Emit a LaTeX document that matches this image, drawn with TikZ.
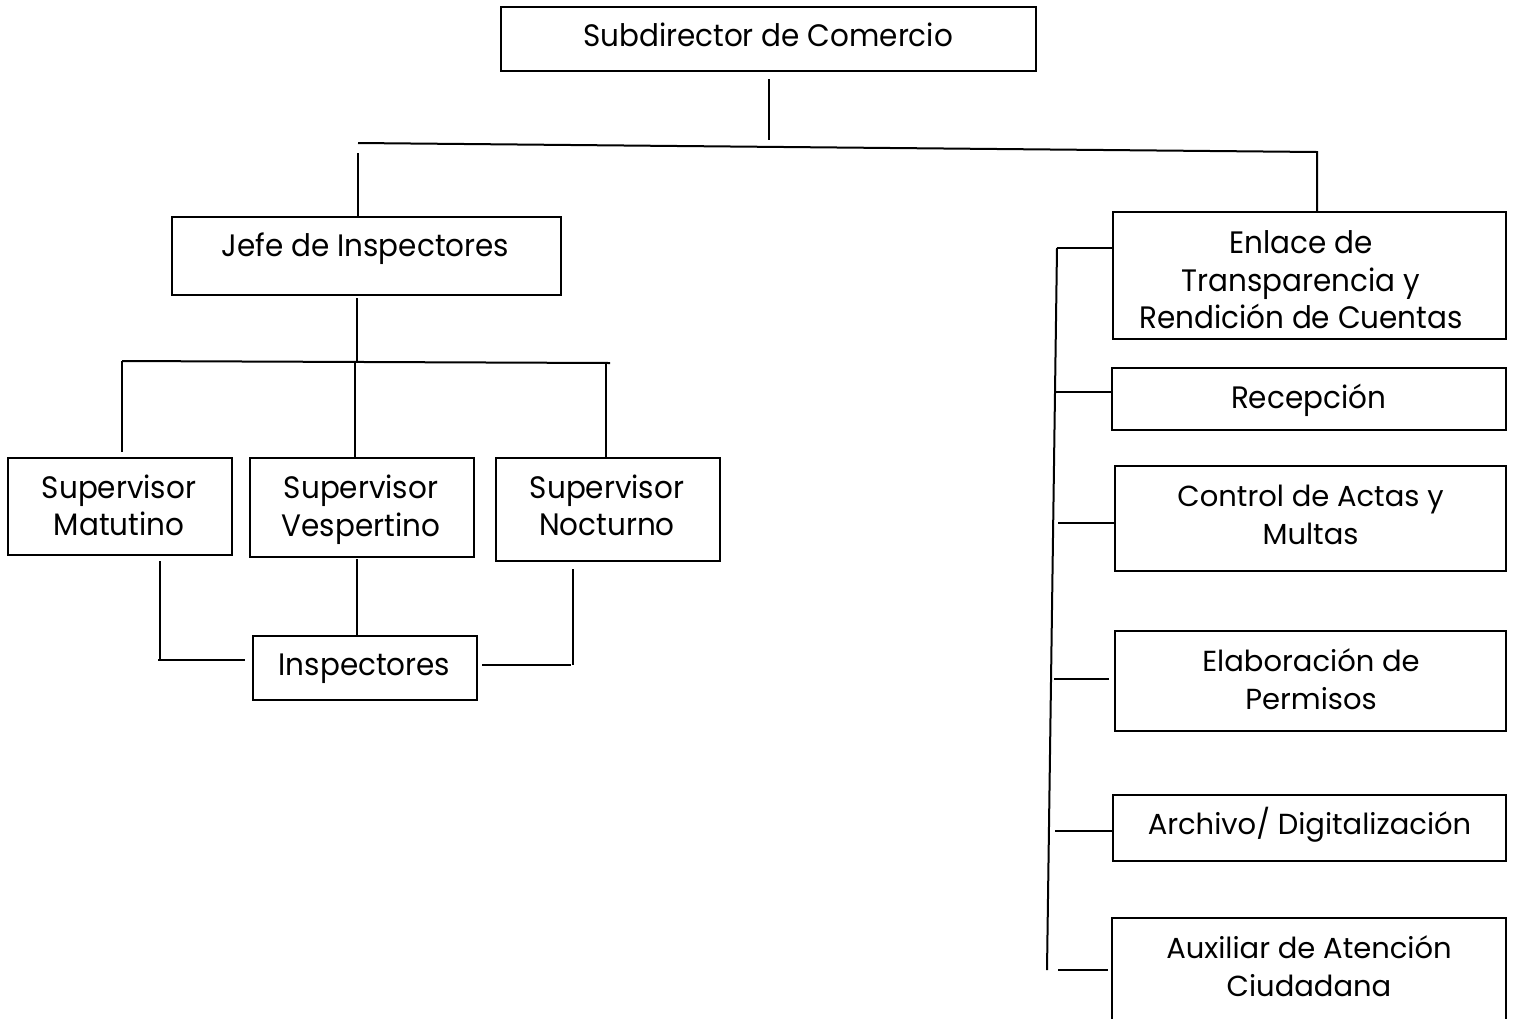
\documentclass[tikz,border=0pt]{standalone}
\usepackage{fontspec}
\setmainfont{Poppins}
\newfontfamily\condfont[FakeStretch=0.95]{Poppins}
\begin{document}
\begin{tikzpicture}[x=1pt,y=-1pt,
  box/.style={draw=black,line width=2pt,rectangle,inner sep=0pt},
  txt/.style={inner sep=0pt,align=center,font=\fontsize{29}{38}\selectfont},
  ctxt/.style={txt,font=\condfont\fontsize{31}{37.5}\selectfont},
  conn/.style={line width=2pt,draw=black}]
\useasboundingbox (0,0) rectangle (1514,1018);
\clip (0,0) rectangle (1514,1018);
% boxes
\node[box,minimum width=535pt,minimum height=64pt] (sub) at (768.5,39) {};
\node[box,minimum width=389pt,minimum height=78pt] (jefe) at (366.5,256) {};
\node[box,minimum width=224pt,minimum height=97pt] (mat) at (120,506.5) {};
\node[box,minimum width=224pt,minimum height=99pt] (ves) at (362,507.5) {};
\node[box,minimum width=224pt,minimum height=103pt] (noc) at (608,509.5) {};
\node[box,minimum width=224pt,minimum height=64pt] (insp) at (365,668) {};
\node[box,minimum width=393pt,minimum height=127pt] (enl) at (1309.5,275.5) {};
\node[box,minimum width=394pt,minimum height=62pt] (rec) at (1309,399) {};
\node[box,minimum width=391pt,minimum height=105pt] (ctl) at (1310.5,518.5) {};
\node[box,minimum width=391pt,minimum height=100pt] (ela) at (1310.5,681) {};
\node[box,minimum width=393pt,minimum height=66pt] (arc) at (1309.5,828) {};
\node[box,minimum width=394pt,minimum height=104pt] (aux) at (1309,970) {};
% texts
\node[ctxt] (sub-t) at (768,35) {Subdirector de Comercio};
\node[ctxt] (jefe-t) at (365.5,249) {Jefe de Inspectores};
\node[ctxt] (mat-t) at (119,505.5) {Supervisor\\Matutino};
\node[ctxt] (ves-t) at (361,509.5) {Supervisor\\Vespertino};
\node[ctxt] (noc-t) at (607,505.5) {Supervisor\\Nocturno};
\node[ctxt] (insp-t) at (364.5,669) {Inspectores};
\node[ctxt] (enl-t) at (1301,280) {Enlace de\\Transparencia y\\Rendición de Cuentas};
\node[ctxt] (rec-t) at (1308.5,400) {Recepción};
\node[txt] (ctl-t) at (1310.5,515) {Control de Actas y\\Multas};
\node[txt] (ela-t) at (1311,679) {Elaboración de\\Permisos};
\node[txt] (arc-t) at (1309.5,825) {Archivo/ Digitalización};
\node[txt] (aux-t) at (1309,966) {Auxiliar de Atención\\Ciudadana};
% junction coordinates
\coordinate (s1) at (769,79);
\coordinate (s2) at (769,140);
\coordinate (hL) at (358,143);
\coordinate (hR) at (1317,152);
\coordinate (jL) at (358,153);
\coordinate (j1) at (357,298);
\coordinate (j2) at (357,362);
\coordinate (bL) at (122,361);
\coordinate (bR) at (610,363);
\coordinate (bM) at (355,361);
\coordinate (bN) at (606,363);
\coordinate (bLe) at (122,452);
\coordinate (m1) at (160,561);
\coordinate (m2) at (160,660);
\coordinate (m3) at (158,660);
\coordinate (v1) at (357,559);
\coordinate (v2) at (357,637);
\coordinate (n1) at (573,569);
\coordinate (n2) at (573,665);
\coordinate (n3) at (571,665);
\coordinate (sp1) at (1057,248);
\coordinate (sp2) at (1047,970);
\coordinate (r1) at (1055,392);
\coordinate (c1) at (1058,523);
\coordinate (e1) at (1054,679);
\coordinate (a1) at (1055,831);
\coordinate (x1) at (1058,970);
% connectors
\draw[conn] (s1) -- (s2);
\draw[conn] (hL) -- (hR) -- (hR |- enl.north);
\draw[conn] (jL) -- (jL |- jefe.north);
\draw[conn] (j1) -- (j2);
\draw[conn] (bL) -- (bR);
\draw[conn] (bL) -- (bLe);
\draw[conn] (bM) -- (bM |- ves.north);
\draw[conn] (bN) -- (bN |- noc.north);
\draw[conn] (m1) -- (m2);
\draw[conn] (m3) -- ([xshift=-7pt]insp.west |- m3);
\draw[conn] (v1) -- (v2);
\draw[conn] (n1) -- (n2);
\draw[conn] ([xshift=4pt]insp.east |- n3) -- (n3);
\draw[conn] (sp1) -- (sp1 -| enl.west);
\draw[conn] (sp1) -- (sp2);
\draw[conn] (r1) -- (r1 -| rec.west);
\draw[conn] (c1) -- (c1 -| ctl.west);
\draw[conn] (e1) -- ([xshift=-5pt]e1 -| ela.west);
\draw[conn] (a1) -- (a1 -| arc.west);
\draw[conn] (x1) -- ([xshift=-3pt]x1 -| aux.west);
\end{tikzpicture}
\end{document}
